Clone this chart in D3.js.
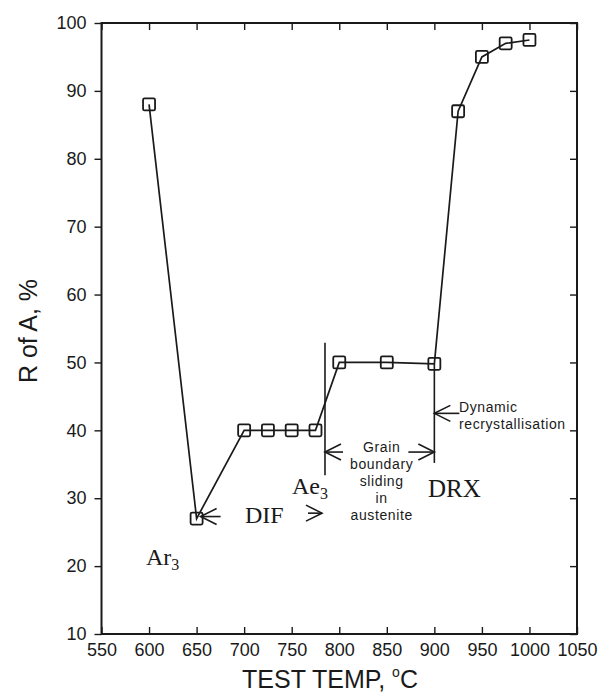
<!DOCTYPE html><html><head><meta charset="UTF-8"><script src="https://d3js.org/d3.v7.min.js"></script><style>
body { margin: 0; background: #fff; }
svg { font-family: "Liberation Sans", Arial, sans-serif; }
.serif { font-family: "Liberation Serif", "Times New Roman", serif; }
.note { letter-spacing: 0.6px; }
</style></head><body><div id="chart"></div><script>
const temps = [600, 650, 700, 725, 750, 775, 800, 850, 900, 925, 950, 975, 1000];
const rofa = [88, 27, 40, 40, 40, 40, 50, 50, 49.8, 87, 95, 97, 97.5];
const xTicks = [550, 600, 650, 700, 750, 800, 850, 900, 950, 1000, 1050];
const yTicks = [10, 20, 30, 40, 50, 60, 70, 80, 90, 100];

const svg = d3.select('#chart').append('svg').attr('width', 600).attr('height', 693);
const x = d3.scaleLinear().domain([550, 1050]).range([101.5, 577]);
const y = d3.scaleLinear().domain([10, 100]).range([634, 23]);
const ink = '#1a1a1a';

// frame
svg.append('rect').attr('x', x(550)).attr('y', y(100))
    .attr('width', x(1050) - x(550)).attr('height', y(10) - y(100))
    .attr('fill', 'none').attr('stroke', ink).attr('stroke-width', 2);

// axes
const gBottom = svg.append('g').attr('transform', `translate(0,${y(10)})`)
    .call(d3.axisBottom(x).tickValues(xTicks).tickSize(-7).tickPadding(9).tickFormat(d3.format('d')));
const gTop = svg.append('g').attr('transform', `translate(0,${y(100)})`)
    .call(d3.axisTop(x).tickValues(xTicks).tickSize(-7).tickFormat(''));
const gLeft = svg.append('g').attr('transform', `translate(${x(550)},0)`)
    .call(d3.axisLeft(y).tickValues(yTicks).tickSize(7).tickPadding(8));
const gRight = svg.append('g').attr('transform', `translate(${x(1050)},0)`)
    .call(d3.axisRight(y).tickValues(yTicks).tickSize(-7).tickFormat(''));
[gBottom, gTop, gLeft, gRight].forEach(g => {
    g.select('.domain').remove();
    g.selectAll('line').attr('stroke', ink).attr('stroke-width', 1.4);
    g.selectAll('text').attr('fill', ink).attr('font-size', 18)
        .attr('font-family', '"Liberation Sans", Arial, sans-serif');
});

// axis titles
const xt = svg.append('text').attr('x', 330).attr('y', 688).attr('text-anchor', 'middle')
    .attr('font-size', 25).attr('fill', ink).text('TEST TEMP, ');
xt.append('tspan').attr('font-size', 14).attr('dy', -11).text('o');
xt.append('tspan').attr('dy', 11).text('C');
svg.append('text').attr('transform', 'translate(37,331) rotate(-90)').attr('text-anchor', 'middle')
    .attr('font-size', 25).attr('fill', ink).text('R of A, %');

// data line
svg.append('path').datum(temps.map((t, i) => [t, rofa[i]]))
    .attr('d', d3.line().x(d => x(d[0])).y(d => y(d[1])))
    .attr('fill', 'none').attr('stroke', ink).attr('stroke-width', 1.7);
svg.selectAll('.pt').data(temps).enter().append('rect').attr('class', 'pt')
    .attr('x', (d, i) => x(d) - 6).attr('y', (d, i) => y(rofa[i]) - 6)
    .attr('width', 12).attr('height', 12).attr('rx', 1.5).attr('fill', 'none')
    .attr('stroke', ink).attr('stroke-width', 1.8);

// annotations
const ann = svg.append('g').attr('stroke', ink).attr('stroke-width', 1.6).attr('fill', 'none');
function vline(t, v1, v2) {
    ann.append('line').attr('x1', x(t)).attr('x2', x(t)).attr('y1', y(v1)).attr('y2', y(v2));
}
function arrowHead(px, py, dir) {
    ann.append('path').attr('d', `M${px - dir * 16},${py - 8} L${px},${py} L${px - dir * 16},${py + 8}`);
}
vline(785, 52.9, 33.4);
vline(900, 49.8, 35.2);
// grain boundary double arrow
const ga = y(36.8);
ann.append('line').attr('x1', x(785)).attr('x2', x(785) + 18).attr('y1', ga).attr('y2', ga);
arrowHead(x(785), ga, -1);
ann.append('line').attr('x1', x(900) - 26).attr('x2', x(900)).attr('y1', ga).attr('y2', ga);
arrowHead(x(900), ga, 1);
// dynamic recrystallisation arrow
const da = y(42.5);
ann.append('line').attr('x1', x(900)).attr('x2', x(900) + 25).attr('y1', da).attr('y2', da);
arrowHead(x(900), da, -1);
// Ar3 arrow at 650
const aa = y(27.3);
ann.append('line').attr('x1', x(650) + 4).attr('x2', x(650) + 24).attr('y1', aa).attr('y2', aa);
arrowHead(x(650) + 4, aa, -1);
// Ae3 arrow (right)
const ea = y(27.8);
ann.append('line').attr('x1', x(785) - 17).attr('x2', x(785) - 3).attr('y1', ea).attr('y2', ea);
arrowHead(x(785) - 3, ea, 1);

// labels
function label(txt, px, py, size, cls, anchor) {
    return svg.append('text').attr('x', px).attr('y', py).attr('font-size', size)
        .attr('fill', ink).attr('class', cls || null).attr('text-anchor', anchor || 'start').text(txt);
}
const gx = (x(785) + x(900)) / 2 + 2;
['Grain', 'boundary', 'sliding', 'in', 'austenite'].forEach((s, i) =>
    label(s, gx, 452 + i * 17, 14, 'note', 'middle'));
label('Dynamic', 459, 412, 14, 'note');
label('recrystallisation', 459, 429, 14, 'note');
label('DRX', 428, 497, 25, 'serif');
const ae = label('Ae', 292, 494, 24, 'serif');
ae.append('tspan').attr('font-size', 16).attr('dy', 5).text('3');
label('DIF', 245, 523, 24, 'serif');
const ar = label('Ar', 146, 565, 24, 'serif');
ar.append('tspan').attr('font-size', 16).attr('dy', 5).text('3');
</script></body></html>
